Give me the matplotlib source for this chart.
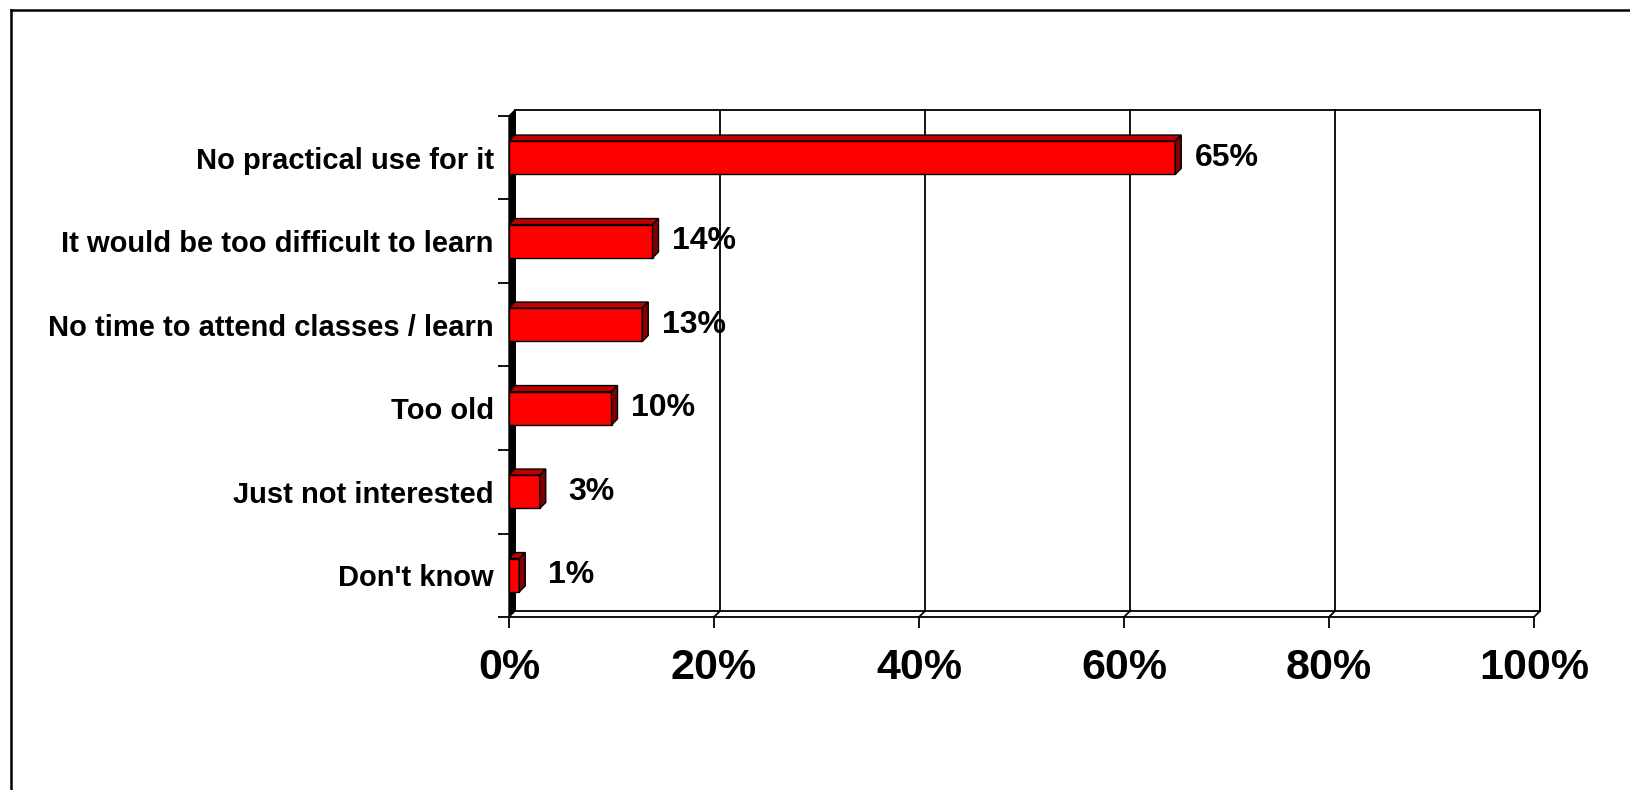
import matplotlib
matplotlib.use("Agg")
import matplotlib.pyplot as plt
from matplotlib.patches import Polygon
from matplotlib.lines import Line2D
import numpy as np

categories = ["No practical use for it", "It would be too difficult to learn",
              "No time to attend classes / learn", "Too old",
              "Just not interested", "Don't know"]
values = [65, 14, 13, 10, 3, 1]
value_labels = ["65%", "14%", "13%", "10%", "3%", "1%"]
xticks = [0, 20, 40, 60, 80, 100]
xtick_labels = ["0%", "20%", "40%", "60%", "80%", "100%"]

plt.rcParams['font.family'] = ['Liberation Sans', 'DejaVu Sans']
plt.rcParams['font.weight'] = 'bold'

W, H = 1630, 790
fig = plt.figure(figsize=(W / 100, H / 100), dpi=100)
fig.patch.set_facecolor('white')

# front plane of the plot
ax = fig.add_axes([509 / W, (H - 617) / H, 1025 / W, 501 / H])
ax.set_xlim(0, 100)
ax.set_ylim(len(categories) - 0.5, -0.5)
ax.patch.set_visible(False)
for s in ax.spines.values():
    s.set_visible(False)

# depth of the 3-D effect in data units (6 px right, 6 px up)
inv = ax.transData.inverted()
o = ax.transData.transform((0, 0))
dd = inv.transform(o + np.array([6.0, 6.0]))
ddx, ddy = dd[0], dd[1]

y0, y1 = -0.5, len(categories) - 0.5
lw_axis = 1.3

# back wall
ax.add_patch(Polygon([(ddx, y0 + ddy), (100 + ddx, y0 + ddy), (100 + ddx, y1 + ddy), (ddx, y1 + ddy)],
                     closed=True, facecolor='white', edgecolor='black', lw=lw_axis, clip_on=False, zorder=0))
# gridlines on back wall + floor slants
for xv in xticks[1:]:
    ax.add_line(Line2D([xv + ddx, xv + ddx], [y0 + ddy, y1 + ddy], color='black', lw=lw_axis, clip_on=False, zorder=1))
    ax.add_line(Line2D([xv, xv + ddx], [y1, y1 + ddy], color='black', lw=lw_axis, clip_on=False, zorder=1))
# floor front line
ax.add_line(Line2D([0, 100], [y1, y1], color='black', lw=lw_axis, clip_on=False, zorder=1))
# left wall (black)
ax.add_patch(Polygon([(0, y0), (0, y1), (ddx, y1 + ddy), (ddx, y0 + ddy)],
                     closed=True, facecolor='black', edgecolor='black', lw=1, clip_on=False, zorder=2))

# bars
ypos = np.arange(len(categories))
h = 0.4
ax.barh(ypos, values, height=h, color='#FF0000', edgecolor='black', lw=1.0, zorder=3, clip_on=False)
for yi, v in zip(ypos, values):
    top = yi - h / 2
    bot = yi + h / 2
    ax.add_patch(Polygon([(0, top), (v, top), (v + ddx, top + ddy), (ddx, top + ddy)], closed=True,
                         facecolor='#C00000', edgecolor='black', lw=1.0, zorder=3, clip_on=False))
    ax.add_patch(Polygon([(v, top), (v, bot), (v + ddx, bot + ddy), (v + ddx, top + ddy)], closed=True,
                         facecolor='#800000', edgecolor='black', lw=1.0, zorder=3, clip_on=False))

for yi, v, lab in zip(ypos, values, value_labels):
    ax.annotate(lab, (v, yi), xytext=(37, 0), textcoords='offset points', ha='center', va='center',
                fontsize=23, fontweight='bold', color='black', zorder=5)

# ticks
ax.set_xticks(xticks)
ax.set_xticklabels(xtick_labels, fontsize=31, fontweight='bold')
ax.tick_params(axis='x', direction='out', length=8, width=1.3, pad=14)
ax.set_yticks(np.arange(-0.5, len(categories), 1.0))
ax.set_yticklabels([])
ax.tick_params(axis='y', which='major', direction='out', length=8, width=1.3)
ax.set_yticks(ypos, minor=True)
ax.set_yticklabels(categories, minor=True, fontsize=21, fontweight='bold')
ax.tick_params(axis='y', which='minor', length=0, pad=11)

# outer frame (left and top)
fig.add_artist(Line2D([11 / W, 11 / W], [0, 1 - 10 / H], transform=fig.transFigure, color='black', lw=1.8))
fig.add_artist(Line2D([11 / W, 1], [1 - 10 / H, 1 - 10 / H], transform=fig.transFigure, color='black', lw=1.8))

fig.savefig("out.png", dpi=100)
